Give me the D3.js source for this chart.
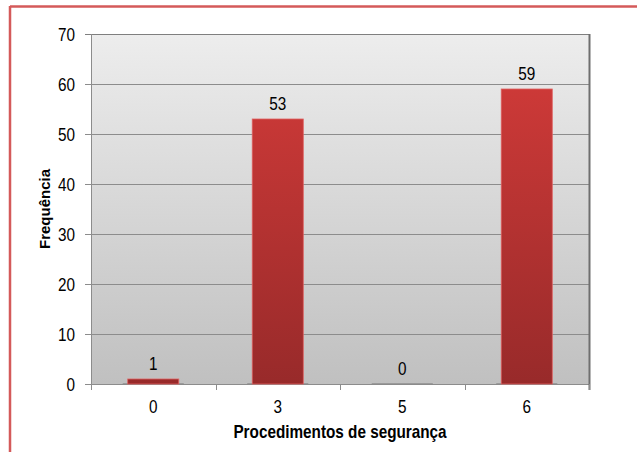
<!DOCTYPE html>
<html><head><meta charset="utf-8">
<script src="https://cdn.jsdelivr.net/npm/d3@7"></script>
<style>body{margin:0;background:#fff;}svg{display:block;font-family:"Liberation Sans",Arial,sans-serif;}</style>
</head><body><svg id="c" width="637" height="452"></svg>
<script>
const categories = ["0","3","5","6"];
const values = [1,53,0,59];
const yTicks = [0,10,20,30,40,50,60,70];
const xTitle = "Procedimentos de segurança";
const yTitle = "Frequência";

const SX = 0.85; // horizontal squeeze of the text
const svg = d3.select("#c");
const m = {l:91, r:589, t:34, b:384};
const defs = svg.append("defs");
const bg = defs.append("linearGradient").attr("id","bg").attr("x1",0).attr("y1",0).attr("x2",0).attr("y2",1);
bg.append("stop").attr("offset","0%").attr("stop-color","#ededed");
bg.append("stop").attr("offset","100%").attr("stop-color","#c0c0c0");
const bar = defs.append("linearGradient").attr("id","bar").attr("x1",0).attr("x2",0).attr("gradientUnits","userSpaceOnUse").attr("y1",m.t).attr("y2",m.b);
bar.append("stop").attr("offset","0%").attr("stop-color","#d63c3a");
bar.append("stop").attr("offset","100%").attr("stop-color","#982a2a");

// outer frame
svg.append("line").attr("x1",10).attr("x2",637).attr("y1",6.5).attr("y2",6.5).attr("stroke","#d45a5a").attr("stroke-width",2.5);
svg.append("line").attr("x1",10).attr("x2",10).attr("y1",6).attr("y2",452).attr("stroke","#d45a5a").attr("stroke-width",2.5);

const x = d3.scaleBand().domain(categories).range([m.l,m.r]).paddingInner(0.59).paddingOuter(0.295);
const y = d3.scaleLinear().domain([0,70]).range([m.b,m.t]);

svg.append("rect").attr("x",m.l).attr("y",m.t).attr("width",m.r-m.l).attr("height",m.b-m.t).attr("fill","url(#bg)");
// gridlines + y ticks
svg.append("g").selectAll("line").data(yTicks).join("line")
  .attr("x1",m.l-6).attr("x2",m.r).attr("y1",d=>Math.round(y(d))+0.5).attr("y2",d=>Math.round(y(d))+0.5)
  .attr("stroke",d=>d===70?"#7f7f7f":"#8c8c8c").attr("stroke-width",1);
// right wall edge
svg.append("line").attr("x1",m.r+0.5).attr("x2",m.r+0.5).attr("y1",m.t).attr("y2",m.b+6).attr("stroke","#6f6f6f").attr("stroke-width",2);
// left axis
svg.append("line").attr("x1",m.l+0.5).attr("x2",m.l+0.5).attr("y1",m.t).attr("y2",m.b+6).attr("stroke","#8c8c8c");

// y tick labels
svg.append("g").selectAll("text").data(yTicks).join("text")
  .attr("transform",d=>`translate(75,${y(d)+6.5}) scale(${SX},1)`)
  .attr("text-anchor","end").attr("font-size",18).attr("fill","#000").text(d=>d);

// x ticks at band boundaries
svg.append("g").selectAll("line").data(d3.range(categories.length+1)).join("line")
  .attr("x1",i=>Math.round(m.l+i*(m.r-m.l)/categories.length)+0.5).attr("x2",i=>Math.round(m.l+i*(m.r-m.l)/categories.length)+0.5)
  .attr("y1",m.b).attr("y2",m.b+6).attr("stroke","#8c8c8c");
svg.append("g").selectAll("text").data(categories).join("text")
  .attr("transform",c=>`translate(${x(c)+x.bandwidth()/2},413) scale(${SX},1)`)
  .attr("text-anchor","middle").attr("font-size",18).attr("fill","#000").text(c=>c);

// bar shadows
svg.append("g").selectAll("rect").data(values).join("rect")
  .attr("x",(d,i)=>x(categories[i])-5).attr("width",x.bandwidth()+10)
  .attr("y",m.b-1).attr("height",2).attr("fill","#8a8a8a").attr("opacity",0.7);
// bars
svg.append("g").selectAll("rect").data(values).join("rect")
  .attr("x",(d,i)=>x(categories[i])).attr("width",x.bandwidth())
  .attr("y",d=>y(d)).attr("height",d=>y(0)-y(d)).attr("fill","url(#bar)")
  .attr("stroke","#e06060").attr("stroke-width",d=>d>0?0.8:0);
// labels
svg.append("g").selectAll("text").data(values).join("text")
  .attr("transform",(d,i)=>`translate(${x(categories[i])+x.bandwidth()/2},${y(d)-9}) scale(${SX},1)`)
  .attr("text-anchor","middle").attr("font-size",18).attr("fill","#000").text(d=>d);

svg.append("text").attr("transform",`translate(${(m.l+m.r)/2},437.5) scale(${SX},1)`).attr("text-anchor","middle")
  .attr("font-size",18).attr("font-weight","bold").text(xTitle);
svg.append("text").attr("transform",`translate(50,${(m.t+m.b)/2}) rotate(-90)`).attr("text-anchor","middle")
  .attr("font-size",15).attr("font-weight","bold").attr("textLength",80).attr("lengthAdjust","spacingAndGlyphs").text(yTitle);
</script></body></html>
